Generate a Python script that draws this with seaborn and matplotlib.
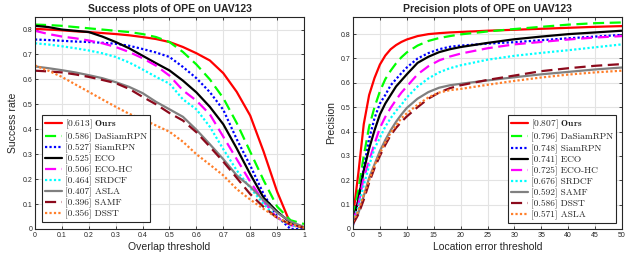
import matplotlib
matplotlib.use("Agg")
import matplotlib.pyplot as plt
import seaborn as sns

# --- Success plot data (overlap threshold -> success rate) ---
overlap_thr = [0.0, 0.05, 0.1, 0.15, 0.2, 0.25, 0.3, 0.35, 0.4, 0.45, 0.5,
               0.55, 0.6, 0.65, 0.7, 0.75, 0.8, 0.85, 0.9, 0.95, 1.0]
success_names = ["Ours", "DaSiamRPN", "SiamRPN", "ECO", "ECO-HC",
                 "SRDCF", "ASLA", "SAMF", "DSST"]
success_auc = ["0.613", "0.586", "0.527", "0.525", "0.506",
               "0.464", "0.407", "0.396", "0.356"]
succ_ours = [0.803, 0.80, 0.797, 0.793, 0.79, 0.786, 0.782, 0.777, 0.77, 0.762, 0.75,
             0.73, 0.705, 0.676, 0.625, 0.55, 0.455, 0.31, 0.15, 0.02, 0.005]
succ_dasiam = [0.82, 0.818, 0.815, 0.81, 0.805, 0.80, 0.795, 0.79, 0.782, 0.77, 0.75,
               0.71, 0.66, 0.60, 0.525, 0.425, 0.31, 0.195, 0.09, 0.035, 0.02]
succ_siam = [0.76, 0.758, 0.755, 0.752, 0.75, 0.747, 0.743, 0.735, 0.722, 0.708, 0.69,
             0.65, 0.605, 0.549, 0.478, 0.36, 0.255, 0.14, 0.05, 0.0, 0.0]
succ_eco = [0.815, 0.81, 0.80, 0.795, 0.79, 0.772, 0.75, 0.725, 0.695, 0.665, 0.636,
            0.595, 0.548, 0.49, 0.42, 0.323, 0.22, 0.125, 0.07, 0.025, 0.005]
succ_ecohc = [0.795, 0.782, 0.772, 0.765, 0.756, 0.745, 0.73, 0.71, 0.685, 0.655, 0.615,
              0.556, 0.515, 0.46, 0.37, 0.28, 0.19, 0.11, 0.045, 0.015, 0.005]
succ_srdcf = [0.745, 0.74, 0.733, 0.725, 0.716, 0.705, 0.69, 0.668, 0.64, 0.61, 0.583,
              0.52, 0.48, 0.41, 0.32, 0.235, 0.165, 0.10, 0.045, 0.015, 0.005]
succ_asla = [0.652, 0.645, 0.637, 0.628, 0.617, 0.605, 0.589, 0.57, 0.545, 0.51, 0.48,
             0.45, 0.398, 0.34, 0.28, 0.215, 0.17, 0.115, 0.065, 0.03, 0.008]
succ_samf = [0.635, 0.632, 0.628, 0.62, 0.61, 0.598, 0.585, 0.562, 0.53, 0.50, 0.465,
             0.435, 0.388, 0.33, 0.27, 0.205, 0.14, 0.088, 0.045, 0.018, 0.005]
succ_dsst = [0.656, 0.635, 0.61, 0.58, 0.55, 0.52, 0.49, 0.462, 0.44, 0.415, 0.39,
             0.35, 0.30, 0.258, 0.215, 0.16, 0.118, 0.08, 0.045, 0.02, 0.005]

# --- Precision plot data (location error threshold -> precision) ---
error_thr = [0, 1, 2, 3, 4, 5, 6, 7, 8, 9, 10, 12, 14, 16, 18, 20,
             25, 30, 35, 40, 45, 50]
precision_names = ["Ours", "DaSiamRPN", "SiamRPN", "ECO", "ECO-HC",
                   "SRDCF", "SAMF", "DSST", "ASLA"]
precision_score = ["0.807", "0.796", "0.748", "0.741", "0.725",
                   "0.676", "0.592", "0.586", "0.571"]
prec_ours = [0.05, 0.23, 0.43, 0.55, 0.62, 0.675, 0.712, 0.738, 0.755, 0.768, 0.778,
             0.792, 0.80, 0.804, 0.807, 0.809, 0.814, 0.818, 0.822, 0.826, 0.83, 0.833]
prec_dasiam = [0.05, 0.16, 0.30, 0.42, 0.50, 0.565, 0.615, 0.65, 0.68, 0.705, 0.725,
               0.753, 0.772, 0.784, 0.792, 0.799, 0.811, 0.821, 0.83, 0.839, 0.845, 0.848]
prec_siam = [0.015, 0.12, 0.25, 0.37, 0.455, 0.515, 0.55, 0.59, 0.615, 0.64, 0.663,
             0.70, 0.722, 0.738, 0.748, 0.753, 0.761, 0.767, 0.775, 0.783, 0.79, 0.797]
prec_eco = [0.03, 0.12, 0.24, 0.33, 0.405, 0.47, 0.515, 0.55, 0.585, 0.61, 0.635,
            0.682, 0.707, 0.726, 0.738, 0.747, 0.764, 0.779, 0.79, 0.80, 0.807, 0.814]
prec_ecohc = [0.03, 0.10, 0.21, 0.28, 0.35, 0.415, 0.46, 0.497, 0.53, 0.56, 0.585,
              0.635, 0.668, 0.692, 0.708, 0.72, 0.742, 0.758, 0.768, 0.778, 0.786, 0.792]
prec_srdcf = [0.03, 0.09, 0.18, 0.26, 0.33, 0.375, 0.42, 0.455, 0.485, 0.51, 0.54,
              0.585, 0.618, 0.643, 0.66, 0.672, 0.695, 0.711, 0.723, 0.734, 0.746, 0.758]
prec_samf = [0.03, 0.065, 0.135, 0.21, 0.265, 0.32, 0.365, 0.405, 0.44, 0.47, 0.497,
             0.535, 0.562, 0.58, 0.59, 0.596, 0.61, 0.623, 0.635, 0.645, 0.655, 0.663]
prec_dsst = [0.02, 0.06, 0.12, 0.19, 0.25, 0.30, 0.345, 0.385, 0.415, 0.44, 0.462,
             0.50, 0.535, 0.56, 0.578, 0.59, 0.612, 0.63, 0.648, 0.66, 0.67, 0.677]
prec_asla = [0.03, 0.075, 0.14, 0.20, 0.26, 0.31, 0.355, 0.395, 0.425, 0.455, 0.475,
             0.51, 0.54, 0.56, 0.57, 0.575, 0.592, 0.608, 0.622, 0.634, 0.643, 0.65]

success_curves = [succ_ours, succ_dasiam, succ_siam, succ_eco, succ_ecohc,
                  succ_srdcf, succ_asla, succ_samf, succ_dsst]
precision_curves = [prec_ours, prec_dasiam, prec_siam, prec_eco, prec_ecohc,
                    prec_srdcf, prec_samf, prec_dsst, prec_asla]

# line style by rank (same in both panels)
rank_colors = ["#ff0000", "#00ff00", "#0000ff", "#000000", "#ff00ff",
               "#00ffff", "#808080", "#8c0a1c", "#ff7f2a"]
dashed = (0, (5, 2.5))
dotted = (0, (1, 1))
rank_styles = ["-", dashed, dotted, "-", dashed, dotted, "-", dashed, dotted]

sns.set_style("whitegrid")
plt.rcParams["mathtext.fontset"] = "cm"
plt.rcParams["font.family"] = ["Liberation Sans", "DejaVu Sans"]


def make_label(score, name):
    if name == "Ours":
        return f"[{score}] " + r"$\mathbf{Ours}$"
    return f"[{score}] {name}"


def draw_panel(ax, x, curves, names, scores, title, xlabel, ylabel,
               xlim, ylim, xticks, xticklabels, legend_loc, legend_anchor):
    for i, (vals, name, score) in enumerate(zip(curves, names, scores)):
        sns.lineplot(x=x, y=vals, ax=ax, color=rank_colors[i],
                     linestyle=rank_styles[i], linewidth=1.6,
                     estimator=None, label=make_label(score, name))
    ax.set_xlim(*xlim)
    ax.set_ylim(*ylim)
    ax.set_xticks(xticks)
    ax.set_xticklabels(xticklabels)
    ax.set_yticks([0, 0.1, 0.2, 0.3, 0.4, 0.5, 0.6, 0.7, 0.8])
    ax.set_yticklabels(["0", "0.1", "0.2", "0.3", "0.4", "0.5", "0.6", "0.7", "0.8"])
    ax.tick_params(direction="in", length=2.5, width=0.6, labelsize=5,
                   top=True, right=True, bottom=True, left=True,
                   colors="#262626", pad=2)
    ax.grid(True, color="#e3e3e3", linewidth=0.8)
    for sp in ax.spines.values():
        sp.set_color("#262626")
        sp.set_linewidth(0.8)
    ax.set_title(title, fontsize=7.5, fontweight="bold", pad=4)
    ax.set_xlabel(xlabel, fontsize=7.5, labelpad=2)
    ax.set_ylabel(ylabel, fontsize=7.5, labelpad=3)
    leg = ax.legend(loc=legend_loc, bbox_to_anchor=legend_anchor,
                    borderaxespad=0, fancybox=False, framealpha=1,
                    edgecolor="#262626", prop={"family": "cmr10", "size": 6.8},
                    handlelength=1.8, handletextpad=0.3, labelspacing=0.18,
                    borderpad=0.3)
    leg.get_frame().set_linewidth(0.8)


fig = plt.figure(figsize=(6.29, 2.59), dpi=100)
ax1 = fig.add_axes([0.0556, 0.116, 0.4277, 0.818])
ax2 = fig.add_axes([0.5612, 0.116, 0.4277, 0.818])

draw_panel(ax1, overlap_thr, success_curves, success_names, success_auc,
           "Success plots of OPE on UAV123", "Overlap threshold", "Success rate",
           (0, 1), (0, 0.85), [0, 0.1, 0.2, 0.3, 0.4, 0.5, 0.6, 0.7, 0.8, 0.9, 1],
           ["0", "0.1", "0.2", "0.3", "0.4", "0.5", "0.6", "0.7", "0.8", "0.9", "1"],
           "lower left", (0.026, 0.033))
draw_panel(ax2, error_thr, precision_curves, precision_names, precision_score,
           "Precision plots of OPE on UAV123", "Location error threshold", "Precision",
           (0, 50), (0, 0.87), [0, 5, 10, 15, 20, 25, 30, 35, 40, 45, 50],
           ["0", "5", "10", "15", "20", "25", "30", "35", "40", "45", "50"],
           "lower right", (0.978, 0.03))

fig.savefig("out.png", dpi=100)
